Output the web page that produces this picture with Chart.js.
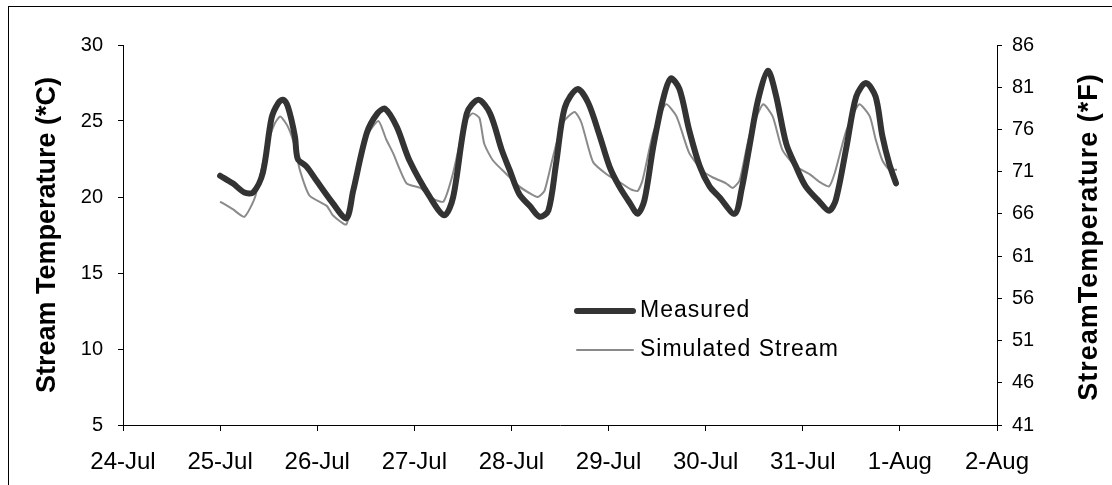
<!DOCTYPE html>
<html>
<head>
<meta charset="utf-8">
<script src="https://cdn.jsdelivr.net/npm/chart.js@4/dist/chart.umd.min.js"></script>
<style>
  html, body { margin: 0; padding: 0; background: #fff; overflow: hidden; }
  #wrap { width: 1112px; height: 485px; position: relative; }
</style>
</head>
<body>
<div id="wrap"><canvas id="chart"></canvas></div>
<script>
// ---- DATA ----
// x = days after 24-Jul 00:00
const dayLabels = ['24-Jul', '25-Jul', '26-Jul', '27-Jul', '28-Jul', '29-Jul', '30-Jul', '31-Jul', '1-Aug', '2-Aug'];
const celsiusTicks = [5, 10, 15, 20, 25, 30];
const fahrenheitTicks = [41, 46, 51, 56, 61, 66, 71, 76, 81, 86];

const measuredDays = [
  1.00, 1.13, 1.25, 1.34, 1.44, 1.53, 1.60, 1.65, 1.70, 1.77, 1.80, 1.89, 1.99, 2.16, 2.30,
  2.37, 2.51, 2.62, 2.70, 2.82, 2.95, 3.16, 3.31, 3.40, 3.54, 3.66, 3.78, 3.90, 3.98, 4.08,
  4.19, 4.29, 4.38, 4.46, 4.55, 4.68, 4.79, 4.91, 5.01, 5.11, 5.22, 5.30, 5.37, 5.46, 5.56,
  5.64, 5.73, 5.83, 5.94, 6.04, 6.14, 6.30, 6.37, 6.45, 6.54, 6.64, 6.72, 6.83, 6.93, 7.03,
  7.17, 7.27, 7.34, 7.45, 7.55, 7.65, 7.75, 7.82, 7.89, 7.96
];
const measuredTemps = [
  21.4, 20.9, 20.3, 20.3, 21.6, 25.2, 26.2, 26.4, 25.9, 24.0, 22.5, 22.0, 21.1, 19.6, 18.6,
  20.4, 24.2, 25.5, 25.8, 24.6, 22.4, 20.0, 18.8, 20.0, 25.5, 26.4, 25.5, 23.1, 21.8, 20.2,
  19.4, 18.7, 19.1, 22.2, 25.9, 27.1, 26.2, 24.0, 22.0, 20.7, 19.6, 18.9, 19.8, 23.3, 26.4,
  27.8, 27.1, 24.4, 22.0, 20.7, 20.0, 18.9, 20.5, 23.3, 26.4, 28.3, 26.8, 23.5, 22.0, 20.7,
  19.7, 19.1, 19.8, 23.3, 26.6, 27.5, 26.6, 24.0, 22.2, 20.9
];

const simulatedDays = [
  1.00, 1.13, 1.25, 1.36, 1.48, 1.56, 1.62, 1.70, 1.77, 1.82, 1.92, 2.10, 2.16, 2.30, 2.40,
  2.51, 2.63, 2.71, 2.78, 2.92, 3.06, 3.19, 3.30, 3.40, 3.52, 3.60, 3.67, 3.72, 3.81, 3.95,
  4.08, 4.20, 4.27, 4.34, 4.43, 4.53, 4.65, 4.72, 4.84, 4.98, 5.11, 5.23, 5.30, 5.35, 5.46,
  5.59, 5.70, 5.83, 5.97, 6.07, 6.21, 6.28, 6.35, 6.45, 6.59, 6.69, 6.79, 6.93, 7.07, 7.17,
  7.27, 7.33, 7.45, 7.58, 7.69, 7.75, 7.82, 7.89, 7.97
];
const simulatedTemps = [
  19.7, 19.2, 18.7, 20.0, 23.3, 24.8, 25.3, 24.6, 23.3, 21.8, 20.1, 19.4, 18.8, 18.2, 21.1,
  24.0, 25.0, 23.8, 22.9, 20.9, 20.6, 19.9, 19.7, 21.6, 24.9, 25.5, 25.2, 23.5, 22.4, 21.5,
  20.7, 20.2, 20.0, 20.4, 22.7, 24.9, 25.6, 24.9, 22.3, 21.5, 21.0, 20.5, 20.4, 21.1, 24.2,
  26.1, 25.3, 22.9, 21.7, 21.3, 20.9, 20.6, 21.1, 24.0, 26.1, 25.3, 23.1, 22.0, 21.5, 21.0,
  20.7, 21.6, 24.4, 26.1, 25.3, 23.8, 22.4, 21.8, 21.8
];

const toPoints = (xs, ys) => xs.map((x, i) => ({ x: x, y: ys[i] }));

// ---- PLUGINS ----
const frame = {
  id: 'frame',
  beforeDraw(chart) {
    const c = chart.ctx;
    c.save();
    c.strokeStyle = '#000';
    c.lineWidth = 1;
    c.strokeRect(8.5, 6.5, 1200, 600);
    c.restore();
  }
};

// right axis title reads bottom-to-top like the left one
const rightTitle = {
  id: 'rightTitle',
  afterDraw(chart) {
    const c = chart.ctx;
    const a = chart.chartArea;
    c.save();
    c.translate(1090, (a.top + a.bottom) / 2 + 2);
    c.rotate(-Math.PI / 2);
    c.font = "bold 27px 'Liberation Sans', Arial, sans-serif";
    if ('letterSpacing' in c) c.letterSpacing = '1px';
    c.fillStyle = '#000';
    c.textAlign = 'center';
    c.textBaseline = 'middle';
    c.fillText('StreamTemperature (*F)', 0, 0);
    c.restore();
  }
};

const insideLegend = {
  id: 'insideLegend',
  afterDraw(chart) {
    const c = chart.ctx;
    const a = chart.chartArea;
    const x0 = a.left + 452, y0 = a.top + 266, rowGap = 39;
    c.save();
    c.font = "23px 'Liberation Sans', Arial, sans-serif";
    if ('letterSpacing' in c) c.letterSpacing = '1px';
    c.textBaseline = 'middle';
    c.textAlign = 'left';
    chart.data.datasets.forEach((ds, i) => {
      const y = y0 + i * rowGap;
      c.strokeStyle = ds.borderColor;
      c.lineWidth = ds.borderWidth;
      c.lineCap = 'round';
      c.beginPath();
      c.moveTo(x0 + 2, y);
      c.lineTo(x0 + 58, y);
      c.stroke();
      c.fillStyle = '#000';
      c.fillText(ds.label, x0 + 65, y);
    });
    c.restore();
  }
};

// ---- CHART ----
Chart.defaults.font.family = "'Liberation Sans', Arial, sans-serif";
Chart.defaults.color = '#000';

const axisGrid = { drawOnChartArea: false, drawTicks: true, tickLength: 5, color: '#000', lineWidth: 1 };
const axisBorder = { display: true, color: '#000', width: 1 };

new Chart(document.getElementById('chart'), {
  type: 'line',
  data: {
    datasets: [
      {
        label: 'Measured',
        data: toPoints(measuredDays, measuredTemps),
        borderColor: '#333333',
        borderWidth: 6,
        borderCapStyle: 'round',
        borderJoinStyle: 'round',
        pointRadius: 0,
        tension: 0.3,
        fill: false
      },
      {
        label: 'Simulated Stream',
        data: toPoints(simulatedDays, simulatedTemps),
        borderColor: '#8a8a8a',
        borderWidth: 2,
        pointRadius: 0,
        tension: 0.2,
        fill: false
      }
    ]
  },
  options: {
    responsive: true,
    maintainAspectRatio: false,
    animation: false,
    layout: { padding: { top: 45, left: 0, right: 0, bottom: 0 } },
    plugins: { legend: { display: false }, tooltip: { enabled: false } },
    scales: {
      x: {
        type: 'linear',
        min: 0,
        max: dayLabels.length - 1,
        afterBuildTicks: s => { s.ticks = dayLabels.map((_, i) => ({ value: i })); },
        afterFit: s => { s.height = 60; },
        ticks: {
          font: { size: 24 },
          padding: 17,
          maxRotation: 0,
          autoSkip: false,
          callback: v => dayLabels[v]
        },
        grid: { ...axisGrid, tickLength: 6 },
        border: axisBorder
      },
      y: {
        position: 'left',
        min: 5,
        max: 30,
        afterBuildTicks: s => { s.ticks = celsiusTicks.map(v => ({ value: v })); },
        afterFit: s => { s.width = 123; },
        ticks: { font: { size: 20 }, padding: 15 },
        title: {
          display: true,
          text: 'Stream Temperature (*C)',
          font: { size: 27, weight: 'bold', lineHeight: 1 },
          padding: { top: 34, bottom: 0 }
        },
        grid: axisGrid,
        border: axisBorder
      },
      yF: {
        position: 'right',
        min: 41,
        max: 86,
        afterBuildTicks: s => { s.ticks = fahrenheitTicks.map(v => ({ value: v })); },
        afterFit: s => { s.width = 115; },
        ticks: { font: { size: 20 }, padding: 10 },
        grid: axisGrid,
        border: axisBorder
      }
    }
  },
  plugins: [frame, rightTitle, insideLegend]
});
</script>
</body>
</html>
